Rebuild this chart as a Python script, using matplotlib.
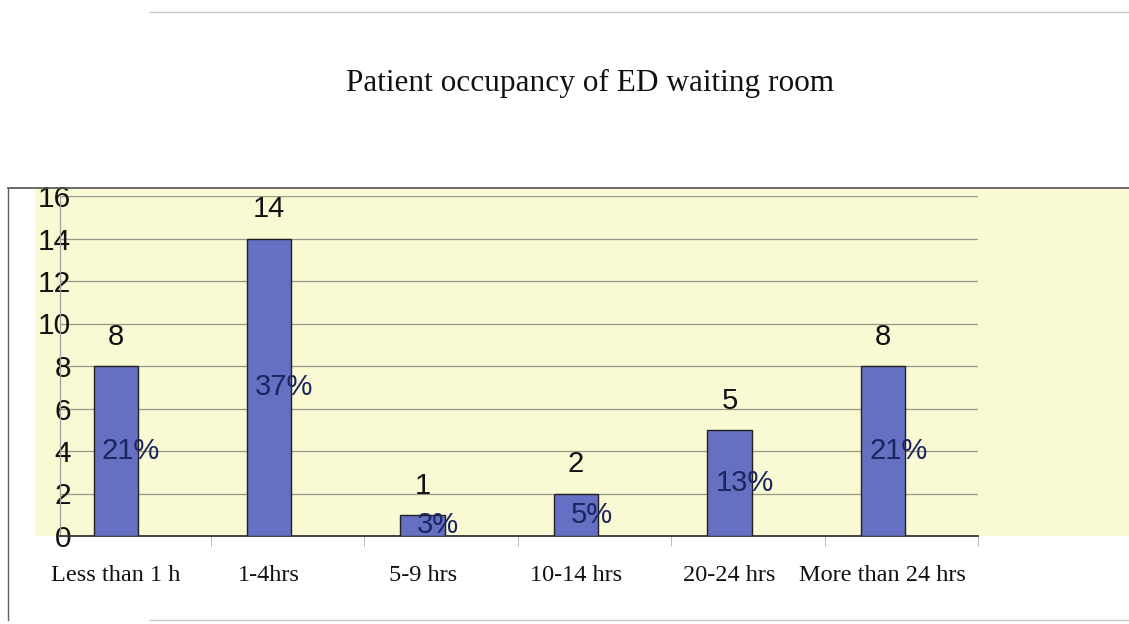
import matplotlib
matplotlib.use('Agg')
import matplotlib.pyplot as plt
from matplotlib.patches import Rectangle
from matplotlib.lines import Line2D

categories = ['Less than 1 h', '1-4hrs', '5-9 hrs', '10-14 hrs', '20-24 hrs', 'More than 24 hrs']
patients = [8, 14, 1, 2, 5, 8]
percent_labels = ['21%', '37%', '3%', '5%', '13%', '21%']
y_ticks = [0, 2, 4, 6, 8, 10, 12, 14, 16]

BAR_COLOR = '#6670c2'
PANEL_COLOR = '#f9f9d3'
PCT_COLOR = '#1c2560'
W, H = 1129, 624


def px(x, y):
    # pixel coords (from top-left) -> figure fraction
    return x / W, 1 - y / H


fig = plt.figure(figsize=(W / 100, H / 100), dpi=100)
fig.patch.set_facecolor('white')

# yellow panel behind the plot area, wider than the axes like in the scan
x0, y0 = px(35, 536)
x1, y1 = px(W, 188)
fig.add_artist(Rectangle((x0, y0), x1 - x0, y1 - y0, transform=fig.transFigure,
                         facecolor=PANEL_COLOR, edgecolor='none', zorder=0))

# chart frame lines
fig.add_artist(Line2D([px(8, 0)[0], 1], [px(0, 188)[1]] * 2, transform=fig.transFigure,
                      color='#505050', linewidth=1.2))
fig.add_artist(Line2D([px(8, 0)[0]] * 2, [px(0, 188)[1], px(0, 620)[1]], transform=fig.transFigure,
                      color='#606060', linewidth=1.0))
fig.add_artist(Line2D([px(150, 0)[0], 1], [px(0, 12)[1]] * 2, transform=fig.transFigure,
                      color='#c8c8c8', linewidth=1.0))
fig.add_artist(Line2D([px(150, 0)[0], 1], [px(0, 620)[1]] * 2, transform=fig.transFigure,
                      color='#c8c8c8', linewidth=1.0))

ax_l, ax_b = px(60, 536)
ax = fig.add_axes([ax_l, ax_b, 918 / W, 340 / H])
ax.set_facecolor('none')

x = list(range(len(categories)))
bars = ax.bar(x, patients, width=0.29, color=BAR_COLOR, edgecolor='#202020', linewidth=1.0, zorder=3)

for xi, v, pct in zip(x, patients, percent_labels):
    ax.annotate(str(v), (xi, v), xytext=(0, 21), textcoords='offset points',
                ha='center', va='center', fontsize=21, family='Liberation Sans', color='#111111')
    ax.annotate(pct, (xi, v / 2), xytext=(11, 0), textcoords='offset points',
                ha='center', va='center', fontsize=21, family='Liberation Sans', color=PCT_COLOR, zorder=4)

ax.set_xlim(-0.364, 5.6)
ax.set_ylim(0, 16)
ax.set_yticks(y_ticks)
ax.set_yticklabels([str(t) for t in y_ticks], fontsize=21.5, family='Liberation Sans', color='#111111')
ax.tick_params(axis='y', length=0, pad=-8)

ax.set_xticks(x)
ax.set_xticklabels(categories, fontsize=17.5, family='Liberation Serif', color='#111111')
ax.tick_params(axis='x', length=0, pad=21)
ax.set_xticks([i + 0.62 for i in x], minor=True)
ax.tick_params(axis='x', which='minor', length=7, color='#b0b0b0', direction='out')

ax.grid(axis='y', color='#979785', linewidth=0.9, zorder=1)
ax.set_axisbelow(True)

for side in ['top', 'right']:
    ax.spines[side].set_visible(False)
ax.spines['left'].set_color('#a0a0a0')
ax.spines['left'].set_linewidth(0.9)
ax.spines['bottom'].set_color('#333333')
ax.spines['bottom'].set_linewidth(1.3)

tx, ty = px(590, 83)
fig.text(tx, ty, 'Patient occupancy of ED waiting room', ha='center', va='center',
         fontsize=22.5, family='Liberation Serif', color='#111111')

fig.savefig('out.png', dpi=100)
